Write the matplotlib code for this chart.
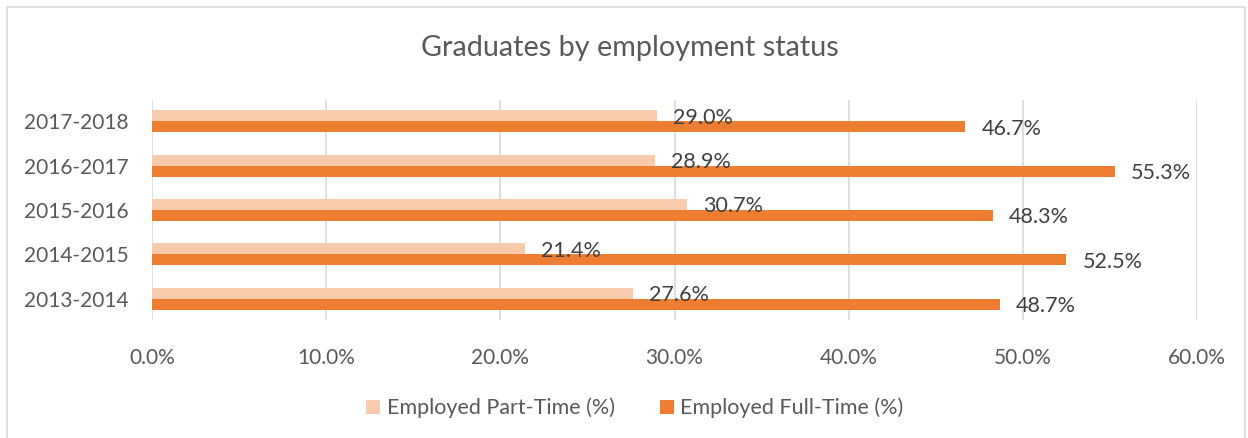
import numpy as np
import matplotlib
matplotlib.use('Agg')
from matplotlib import pyplot as plt
from matplotlib.patches import Rectangle

years = ['2013-2014', '2014-2015', '2015-2016', '2016-2017', '2017-2018']
part_time = [27.6, 21.4, 30.7, 28.9, 29.0]
full_time = [48.7, 52.5, 48.3, 55.3, 46.7]
xticks = [0, 10, 20, 30, 40, 50, 60]

c_part = '#F8CBAD'
c_full = '#ED7D31'
grey = '#595959'

plt.rcParams['font.family'] = ['Lato', 'DejaVu Sans']

fig = plt.figure(figsize=(12.48, 4.38), dpi=100)
# chart frame
fig.patches.append(Rectangle((7/1248, -0.1), 1238/1248, 1.1 - 7/438, transform=fig.transFigure,
                             fill=False, edgecolor='#D9D9D9', lw=1.2))
fig.text(3/1248, 1 + 9/438, 'SOURCE: SURVEY OF GRADUATES', fontsize=10, color=grey, va='bottom')

ax = fig.add_axes([152/1248, 1 - 320/438, 1045/1248, 220/438])
y = np.arange(len(years))
h = 0.25
ax.barh(y + h/2, part_time, height=h, color=c_part, label='Employed Part-Time (%)', zorder=3)
ax.barh(y - h/2, full_time, height=h, color=c_full, label='Employed Full-Time (%)', zorder=3)

for i in range(len(years)):
    ax.annotate('%.1f%%' % part_time[i], (part_time[i], y[i] + h/2 - 0.04), xytext=(11.5, 0),
                textcoords='offset points', va='center', ha='left', fontsize=15.5, color='#404040')
    ax.annotate('%.1f%%' % full_time[i], (full_time[i], y[i] - h/2 - 0.04), xytext=(11.5, 0),
                textcoords='offset points', va='center', ha='left', fontsize=15.5, color='#404040')

ax.set_xlim(0, 60)
ax.set_ylim(-0.48, 4.48)
ax.set_xticks(xticks)
ax.set_xticklabels(['%.1f%%' % v for v in xticks])
ax.set_yticks(y)
ax.set_yticklabels(years)
ax.tick_params(axis='both', length=0, labelsize=15, labelcolor=grey)
ax.tick_params(axis='x', pad=20)
ax.tick_params(axis='y', pad=17)
ax.grid(axis='x', color='#D9D9D9', lw=1.2, zorder=0)
for s in ax.spines.values():
    s.set_visible(False)

fig.text(630/1248, 1 - 48/438, 'Graduates by employment status', fontsize=20.7, color=grey,
         ha='center', va='center')

fig.legend(loc='center', bbox_to_anchor=(635/1248, 1 - 408/438), ncol=2, frameon=False,
           fontsize=15.5, labelcolor=grey, handlelength=0.65, handleheight=0.65,
           handletextpad=0.3, columnspacing=2.1)

fig.savefig('out.png', dpi=100)
